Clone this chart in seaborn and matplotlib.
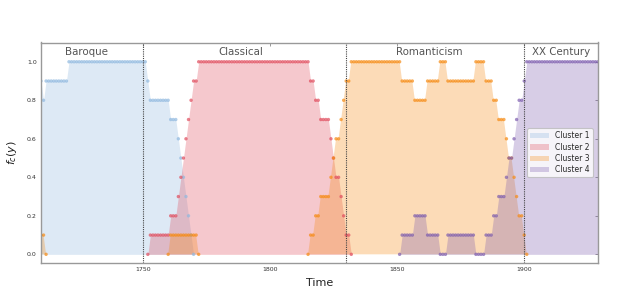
import numpy as np
import pandas as pd
import matplotlib
matplotlib.use("Agg")
import matplotlib.pyplot as plt
import seaborn as sns

# ---------------- data ----------------
clusters = ["Cluster 1", "Cluster 2", "Cluster 3", "Cluster 4"]

c1_start = 1710
c1_values = [0.9, 0.8,
             0.9, 0.9, 0.9, 0.9, 0.9, 0.9, 0.9, 0.9, 0.9,
             1.0, 1.0, 1.0, 1.0, 1.0, 1.0, 1.0, 1.0, 1.0, 1.0,
             1.0, 1.0, 1.0, 1.0, 1.0, 1.0, 1.0, 1.0, 1.0, 1.0,
             1.0, 1.0, 1.0, 1.0, 1.0, 1.0, 1.0, 1.0, 1.0, 1.0, 1.0,
             0.9,
             0.8, 0.8, 0.8, 0.8, 0.8, 0.8, 0.8, 0.8,
             0.7, 0.7, 0.7,
             0.6, 0.5, 0.4, 0.3, 0.2, 0.1, 0.0]

c2_start = 1752
c2_values = [0.0,
             0.1, 0.1, 0.1, 0.1, 0.1, 0.1, 0.1, 0.1,
             0.2, 0.2, 0.2,
             0.3, 0.4, 0.5, 0.6, 0.7, 0.8,
             0.9, 0.9,
             1.0, 1.0, 1.0, 1.0, 1.0, 1.0, 1.0, 1.0, 1.0, 1.0, 1.0,
             1.0, 1.0, 1.0, 1.0, 1.0, 1.0, 1.0, 1.0, 1.0, 1.0, 1.0,
             1.0, 1.0, 1.0, 1.0, 1.0, 1.0, 1.0, 1.0, 1.0, 1.0, 1.0,
             1.0, 1.0, 1.0, 1.0, 1.0, 1.0, 1.0, 1.0, 1.0, 1.0, 1.0,
             0.9, 0.9,
             0.8, 0.8,
             0.7, 0.7, 0.7, 0.7,
             0.6, 0.5, 0.4, 0.4, 0.3, 0.2, 0.1, 0.1, 0.0]

c3a_start = 1710
c3a_values = [0.1, 0.1, 0.0]

c3b_start = 1760
c3b_values = [0.0, 0.1, 0.1, 0.1, 0.1, 0.1, 0.1, 0.1, 0.1, 0.1, 0.1, 0.1, 0.0]

c3c_start = 1815
c3c_values = [0.0, 0.1, 0.1, 0.2, 0.2, 0.3, 0.3, 0.3, 0.3, 0.4, 0.5, 0.6, 0.6,
              0.7, 0.8, 0.9, 0.9, 1.0,
              1.0, 1.0, 1.0, 1.0, 1.0, 1.0, 1.0, 1.0, 1.0, 1.0,
              1.0, 1.0, 1.0, 1.0, 1.0, 1.0, 1.0, 1.0, 1.0,
              0.9, 0.9, 0.9, 0.9, 0.9,
              0.8, 0.8, 0.8, 0.8, 0.8,
              0.9, 0.9, 0.9, 0.9, 0.9,
              1.0, 1.0, 1.0,
              0.9, 0.9, 0.9, 0.9, 0.9, 0.9, 0.9, 0.9, 0.9, 0.9, 0.9,
              1.0, 1.0, 1.0, 1.0,
              0.9, 0.9, 0.9,
              0.8, 0.8,
              0.7, 0.7, 0.7,
              0.6, 0.5, 0.5, 0.4, 0.3, 0.2, 0.2, 0.1, 0.0]

c4_start = 1851
c4_values = [0.0,
             0.1, 0.1, 0.1, 0.1, 0.1,
             0.2, 0.2, 0.2, 0.2, 0.2,
             0.1, 0.1, 0.1, 0.1, 0.1,
             0.0, 0.0, 0.0,
             0.1, 0.1, 0.1, 0.1, 0.1, 0.1, 0.1, 0.1, 0.1, 0.1, 0.1,
             0.0, 0.0, 0.0, 0.0,
             0.1, 0.1, 0.1,
             0.2, 0.2,
             0.3, 0.3, 0.3,
             0.4, 0.5, 0.5, 0.6, 0.7, 0.8, 0.8, 0.9,
             1.0, 1.0, 1.0, 1.0, 1.0, 1.0, 1.0, 1.0, 1.0, 1.0,
             1.0, 1.0, 1.0, 1.0, 1.0, 1.0, 1.0, 1.0, 1.0, 1.0,
             1.0, 1.0, 1.0, 1.0, 1.0, 1.0, 1.0, 1.0, 1.0]

periods = ["Baroque", "Classical", "Romanticism", "XX Century"]
period_label_x = [1728, 1788.5, 1862.5, 1914.5]
period_bounds = [1750, 1830, 1900]

year_min, year_max = 1710, 1929
xticks = [1750, 1800, 1850, 1900]
yticks = [0.0, 0.2, 0.4, 0.6, 0.8, 1.0]

# ---------------- build tidy table ----------------
segments = [("Cluster 1", c1_start, c1_values),
            ("Cluster 2", c2_start, c2_values),
            ("Cluster 3", c3a_start, c3a_values),
            ("Cluster 3", c3b_start, c3b_values),
            ("Cluster 3", c3c_start, c3c_values),
            ("Cluster 4", c4_start, c4_values)]
rows = []
for name, start, vals in segments:
    for i, v in enumerate(vals):
        rows.append({"year": start + i, "cluster": name, "value": v})
df = pd.DataFrame(rows)
wide = (df.pivot_table(index="year", columns="cluster", values="value")
          .reindex(range(year_min, year_max + 1)))

colors = {"Cluster 1": "#8fb8df",
          "Cluster 2": "#e04b5c",
          "Cluster 3": "#f68a12",
          "Cluster 4": "#7c5cae"}

# ---------------- plot ----------------
sns.set_style("white")
plt.rcParams["font.family"] = ["DejaVu Sans"]

fig = plt.figure(figsize=(6.19, 2.88), dpi=100)
ax = fig.add_axes([41 / 619, 1 - 263 / 288, (598 - 41) / 619, (263 - 42.5) / 288])

handles = []
for name in clusters:
    h = ax.fill_between(wide.index, 0, wide[name], color=colors[name],
                        alpha=0.3, linewidth=0, label=name)
    handles.append(h)

sns.scatterplot(data=df, x="year", y="value", hue="cluster", palette=colors,
                s=6, marker="o", linewidth=0, alpha=0.7, legend=False, ax=ax)

for xb in period_bounds:
    ax.axvline(xb, color="#444444", linestyle=(0, (1, 1)), linewidth=0.8)

for name, xp in zip(periods, period_label_x):
    ax.text(xp, 1.05, name, ha="center", va="center", fontsize=7.4, color="#555555")

ax.set_xlim(year_min, year_max)
ax.set_ylim(-0.045, 1.1)
ax.set_xticks(xticks)
ax.set_xticklabels([str(t) for t in xticks])
ax.set_yticks(yticks)
ax.set_yticklabels([f"{t:.1f}" for t in yticks])
ax.tick_params(axis="both", labelsize=4.5, direction="in", length=2, width=0.6,
               color="#888888", top=True, right=True, pad=3, labelcolor="#333333")

ax.set_xlabel("Time", fontsize=8, color="#222222", labelpad=4)
ax.set_ylabel("$f_c(y)$", fontsize=8, color="#222222", labelpad=6)

for sp in ax.spines.values():
    sp.set_color("#999999")
    sp.set_linewidth(1.0)

leg = ax.legend(handles=handles, labels=clusters, loc="center right",
                fontsize=5.5, frameon=True, fancybox=True, borderpad=0.4,
                labelspacing=0.3, handlelength=2.4, handletextpad=0.8,
                bbox_to_anchor=(0.997, 0.5))
leg.get_frame().set_edgecolor("#bbbbbb")
leg.get_frame().set_linewidth(0.8)

fig.savefig("out.png", dpi=100)
